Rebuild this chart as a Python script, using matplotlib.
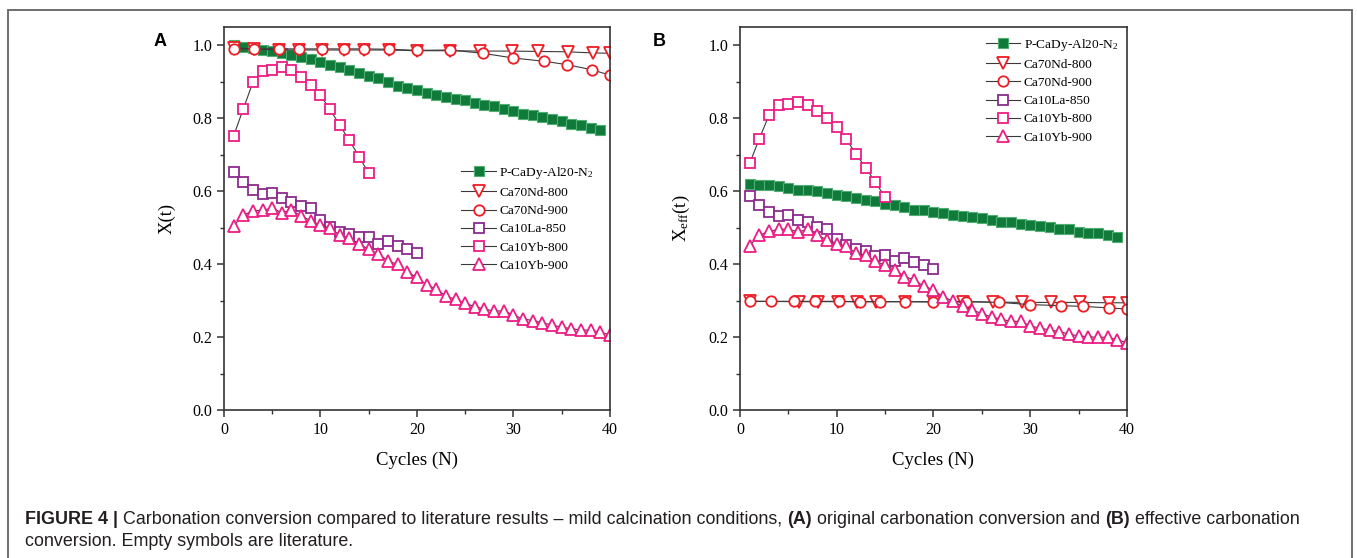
import numpy as np
import matplotlib
matplotlib.use("Agg")
from matplotlib import pyplot as plt
from matplotlib.patches import Rectangle

plt.rcParams['font.family'] = 'serif'
plt.rcParams['font.serif'] = ['Liberation Serif', 'DejaVu Serif']
plt.rcParams['mathtext.default'] = 'regular'

# ---- data ----
cycles_39 = list(range(1, 40))
cycles_40 = list(range(1, 41))
cycles_20 = list(range(1, 21))
cycles_15 = list(range(1, 16))

# panel A : X(t)
a_dy = [1.000, 0.994, 0.992, 0.987, 0.983, 0.978, 0.972, 0.967, 0.961, 0.954,
        0.947, 0.940, 0.932, 0.925, 0.915, 0.909, 0.899, 0.887, 0.883, 0.876,
        0.870, 0.864, 0.858, 0.853, 0.849, 0.841, 0.835, 0.834, 0.825, 0.820,
        0.812, 0.810, 0.802, 0.798, 0.791, 0.783, 0.780, 0.774, 0.768]
a_nd800_x = [1, 3.1, 5.7, 7.8, 10.2, 12.4, 14.5, 17.1, 20.0, 23.4, 26.5, 29.9,
             32.5, 35.6, 38.2, 40.0]
a_nd800 = [0.993, 0.990, 0.987, 0.987, 0.987, 0.987, 0.987, 0.987, 0.985,
           0.985, 0.984, 0.984, 0.983, 0.982, 0.979, 0.978]
a_nd900_x = [1, 3.1, 5.7, 7.8, 10.2, 12.4, 14.5, 17.1, 20.0, 23.4, 26.8, 30.0,
             33.2, 35.5, 38.1, 40.0]
a_nd900 = [0.990, 0.990, 0.990, 0.990, 0.990, 0.990, 0.990, 0.989, 0.986,
           0.987, 0.978, 0.965, 0.956, 0.947, 0.933, 0.918]
a_la850 = [0.652, 0.626, 0.604, 0.592, 0.594, 0.581, 0.571, 0.558, 0.553, 0.521,
           0.501, 0.489, 0.483, 0.473, 0.473, 0.455, 0.462, 0.451, 0.441, 0.431]
a_yb800 = [0.751, 0.825, 0.898, 0.930, 0.932, 0.939, 0.931, 0.913, 0.891, 0.863,
           0.824, 0.781, 0.739, 0.695, 0.649]
a_yb900 = [0.505, 0.534, 0.546, 0.548, 0.553, 0.541, 0.548, 0.532, 0.519, 0.507,
           0.498, 0.480, 0.471, 0.455, 0.441, 0.428, 0.409, 0.399, 0.378, 0.364,
           0.343, 0.331, 0.313, 0.303, 0.293, 0.283, 0.277, 0.271, 0.272, 0.260,
           0.250, 0.245, 0.239, 0.233, 0.227, 0.223, 0.219, 0.219, 0.213, 0.206]

# panel B : Xeff(t)
b_dy = [0.620, 0.616, 0.616, 0.614, 0.609, 0.604, 0.602, 0.600, 0.595, 0.589,
        0.586, 0.581, 0.577, 0.572, 0.566, 0.563, 0.557, 0.549, 0.548, 0.543,
        0.540, 0.536, 0.531, 0.530, 0.526, 0.520, 0.516, 0.516, 0.510, 0.507,
        0.504, 0.502, 0.496, 0.495, 0.489, 0.485, 0.484, 0.479, 0.474]
b_nd800_x = [1, 6.1, 8.1, 10.1, 12.1, 14.1, 17.1, 20.1, 23.1, 26.1, 29.1, 32.1,
             35.1, 38.1, 40.0]
b_nd800 = [0.298, 0.297, 0.297, 0.297, 0.297, 0.297, 0.297, 0.297, 0.297,
           0.296, 0.295, 0.295, 0.295, 0.294, 0.294]
b_nd900_x = [1, 3.2, 5.6, 7.8, 10.2, 12.4, 14.5, 17.1, 20.0, 23.4, 26.8, 30.0,
             33.2, 35.5, 38.1, 40.0]
b_nd900 = [0.298, 0.298, 0.298, 0.298, 0.298, 0.297, 0.297, 0.297, 0.296,
           0.297, 0.295, 0.289, 0.286, 0.284, 0.280, 0.277]
b_la850 = [0.588, 0.563, 0.542, 0.533, 0.535, 0.522, 0.515, 0.502, 0.497, 0.469,
           0.453, 0.441, 0.435, 0.423, 0.424, 0.409, 0.417, 0.407, 0.397, 0.386]
b_yb800 = [0.676, 0.744, 0.808, 0.836, 0.838, 0.845, 0.837, 0.821, 0.801, 0.776,
           0.742, 0.702, 0.664, 0.625, 0.583]
b_yb900 = [0.451, 0.479, 0.490, 0.495, 0.496, 0.488, 0.495, 0.479, 0.467, 0.456,
           0.449, 0.430, 0.424, 0.408, 0.397, 0.385, 0.366, 0.357, 0.339, 0.330,
           0.310, 0.299, 0.284, 0.275, 0.264, 0.255, 0.249, 0.243, 0.243, 0.231,
           0.224, 0.220, 0.215, 0.208, 0.203, 0.201, 0.199, 0.200, 0.192, 0.185]

labels = ['P-CaDy-Al20-N$_2$', 'Ca70Nd-800', 'Ca70Nd-900',
          'Ca10La-850', 'Ca10Yb-800', 'Ca10Yb-900']

GREEN = '#0f7a3a'
GREEN_E = '#4fae72'
RED = '#ee1c25'
PURPLE = '#8a2b8e'
PINK = '#ec1c84'
LINE = '#3a3a3a'


def draw_panel(ax, dy, nd800_x, nd800, nd900_x, nd900, la850, yb800, yb900):
    kw = dict(color=LINE, lw=0.8)
    ax.plot(cycles_39, dy, marker='s', ms=6.5, mfc=GREEN, mec=GREEN_E, mew=0.8,
            label=labels[0], **kw)
    ax.plot(nd800_x, nd800, marker='v', ms=8, mfc='white', mec=RED, mew=1.3,
            label=labels[1], **kw)
    ax.plot(nd900_x, nd900, marker='o', ms=7.5, mfc='white', mec=RED, mew=1.3,
            label=labels[2], **kw)
    ax.plot(cycles_20, la850, marker='s', ms=6.5, mfc='white', mec=PURPLE, mew=1.3,
            label=labels[3], **kw)
    ax.plot(cycles_15, yb800, marker='s', ms=6.5, mfc='white', mec=PINK, mew=1.3,
            label=labels[4], **kw)
    ax.plot(cycles_40, yb900, marker='^', ms=8.5, mfc='white', mec=PINK, mew=1.3,
            label=labels[5], **kw)

    ax.set_xlim(0, 40)
    ax.set_ylim(0, 1.05)
    ax.set_xticks([0, 10, 20, 30, 40])
    ax.set_xticks([5, 15, 25, 35], minor=True)
    ax.set_yticks([0, 0.2, 0.4, 0.6, 0.8, 1.0])
    ax.set_yticks([0.1, 0.3, 0.5, 0.7, 0.9], minor=True)
    ax.yaxis.set_major_formatter(plt.FormatStrFormatter('%.1f'))
    ax.tick_params(which='major', direction='out', length=5, width=1.1,
                   labelsize=11.5, color='#333333')
    ax.tick_params(which='minor', direction='out', length=3, width=1.0,
                   color='#333333')
    for s in ax.spines.values():
        s.set_linewidth(1.2)
        s.set_color('#333333')
    ax.set_xlabel('Cycles (N)', fontsize=13.5, labelpad=10)


fig = plt.figure(figsize=(13.57, 5.58), dpi=100)
ax1 = fig.add_axes([0.165, 0.2652, 0.2845, 0.6864])
ax2 = fig.add_axes([0.5453, 0.2652, 0.2852, 0.6864])

draw_panel(ax1, a_dy, a_nd800_x, a_nd800, a_nd900_x, a_nd900, a_la850, a_yb800, a_yb900)
draw_panel(ax2, b_dy, b_nd800_x, b_nd800, b_nd900_x, b_nd900, b_la850, b_yb800, b_yb900)

ax1.set_ylabel('X(t)', fontsize=13.5, labelpad=12)
ax2.set_ylabel('X$_{eff}$(t)', fontsize=13.5, labelpad=12)

leg_kw = dict(loc='upper left', frameon=False, fontsize=9.6, handlelength=2.6,
              handletextpad=0.25, labelspacing=0.44, borderpad=0, borderaxespad=0)
ax1.legend(bbox_to_anchor=(0.615, 0.64), **leg_kw)
ax2.legend(bbox_to_anchor=(0.635, 0.975), **leg_kw)

fig.text(0.113, 0.918, 'A', fontsize=13, fontweight='bold', family='Liberation Sans')
fig.text(0.481, 0.918, 'B', fontsize=13, fontweight='bold', family='Liberation Sans')

# caption with mixed bold / regular pieces
cap_font = ['Liberation Sans', 'DejaVu Sans']
line1 = [('FIGURE 4 |', 'bold'),
         (' Carbonation conversion compared to literature results \u2013 mild calcination conditions, ', 'normal'),
         ('(A)', 'bold'), (' original carbonation conversion and ', 'normal'),
         ('(B)', 'bold'), (' effective carbonation', 'normal')]
line2 = [('conversion. Empty symbols are literature.', 'normal')]
renderer = fig.canvas.get_renderer()
for pieces, ypix in [(line1, 520), (line2, 541)]:
    x = 25.0
    for txt, w in pieces:
        t = fig.text(x / 1357, 1 - ypix / 558, txt, fontsize=12.9, fontweight=w,
                     family=cap_font, va='center', ha='left', color='#231f20')
        bb = t.get_window_extent(renderer=renderer)
        x += bb.width

# frame around the figure (open at the bottom edge of the image)
fig.patches.append(Rectangle((8 / 1357, -0.01), (1352 - 8) / 1357, 1 - 10 / 558 + 0.01,
                             transform=fig.transFigure, fill=False,
                             ec='#6e6e6e', lw=1.4))

fig.savefig('out.png', dpi=100)
